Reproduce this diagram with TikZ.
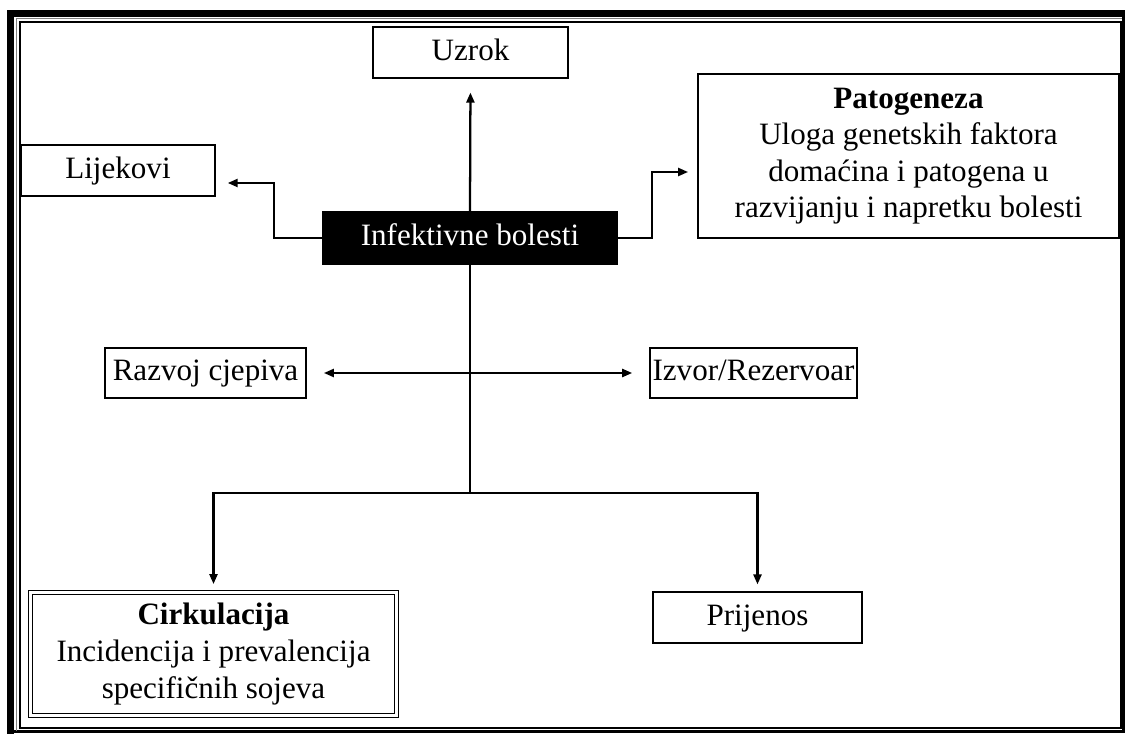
\documentclass[tikz,border=0pt]{standalone}
\usepackage{fontspec}
\setmainfont{Liberation Serif}
\usetikzlibrary{arrows.meta,calc}

\tikzset{
  box/.style={draw,line width=1.1pt,inner sep=2pt,align=center,
    font=\fontsize{23.3}{27.4}\selectfont},
  oneline/.style={text height=16pt,text depth=4pt},
  conn/.style={line width=1.7pt,-{Triangle[length=7.5pt,width=6pt]}},
  link/.style={line width=1.7pt}
}

\begin{document}
\begin{tikzpicture}[x=0.75pt,y=-0.75pt]
  \useasboundingbox (0,0) rectangle (1125,734);

  % page border
  \draw[line width=5pt] (10.7,734) -- (10.7,13.3) -- (1125,13.3);
  \draw[line width=2.2pt] (1123.6,13.3) -- (1123.6,731.2) -- (7.3,731.2);
  \draw[gray,line width=1pt] (16.5,731) -- (16.5,18.5) -- (1122,18.5);
  \draw[line width=1.6pt] (19.6,21.6) rectangle (1120.6,727.6);

  \node[box,oneline,minimum width=146pt,minimum height=38pt] (uzr) at (470.5,52.5) {Uzrok};
  \node[box,oneline,minimum width=145.5pt,minimum height=38pt] (lij) at (118,170.5) {Lijekovi};
  \node[box,minimum width=316pt,minimum height=123pt] (pat) at (908.5,156)
    {\textbf{Patogeneza}\\Uloga genetskih faktora\\domaćina i patogena u\\razvijanju i napretku bolesti};
  \node[box,oneline,fill=black,text=white,minimum width=220.5pt,minimum height=39pt] (inf) at (470,238) {Infektivne bolesti};
  \node[box,oneline,minimum width=151pt,minimum height=37.5pt] (raz) at (205.5,373) {Razvoj cjepiva};
  \node[box,oneline,minimum width=152pt,minimum height=37.5pt] (izv) at (753.5,373) {Izvor/Rezervoar};
  \node[box,draw=none,minimum width=277pt,minimum height=97pt] (cir) at (213.5,654)
    {\textbf{Cirkulacija}\\Incidencija i prevalencija\\specifičnih sojeva};
  \draw[line width=0.8pt] ($(cir.south west)+(0.5,-2)$) rectangle ($(cir.north east)+(-0.5,2)$);
  \draw[line width=0.8pt] ($(cir.south west)+(4.5,-6)$) rectangle ($(cir.north east)+(-4.5,6)$);
  \node[box,oneline,minimum width=157pt,minimum height=38pt] (pri) at (757.5,617.5) {Prijenos};

  \coordinate (lijbend) at (274,183);
  \coordinate (patbend) at (652,172);
  \coordinate (split) at (470,493);

  \draw[conn,shorten >=10.5pt] (inf.north) -- (uzr.south);
  \draw[conn,shorten >=9pt] (inf.west) -| (lijbend) -- (lij.east |- lijbend);
  \draw[conn,shorten >=6.75pt] (inf.east) -| (patbend) -- (pat.west |- patbend);
  \draw[link,{Triangle[length=7.5pt,width=6pt]}-{Triangle[length=7.5pt,width=6pt]},
    shorten <=12.75pt,shorten >=12.75pt] (raz.east) -- (izv.west);
  \draw[link] (inf.south) -- (split);
  \draw[conn,shorten >=3.4pt] (split) -| (cir.north);
  \draw[conn,shorten >=5.25pt] (split) -| (pri.north);
\end{tikzpicture}
\end{document}
